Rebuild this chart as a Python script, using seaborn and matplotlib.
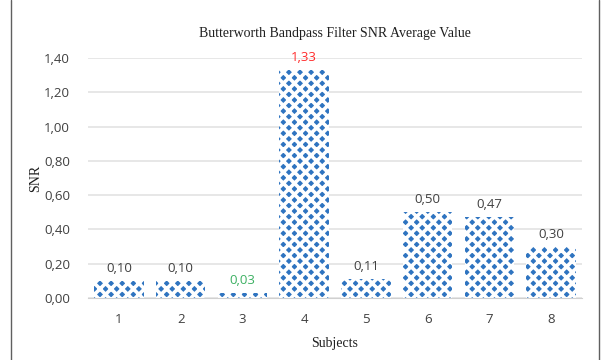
import matplotlib
matplotlib.use("Agg")
import matplotlib.pyplot as plt
import seaborn as sns
import pandas as pd
from matplotlib.lines import Line2D

subjects = ["1", "2", "3", "4", "5", "6", "7", "8"]
snr = [0.10, 0.10, 0.03, 1.33, 0.11, 0.50, 0.47, 0.30]
label_colors = ["#404040", "#404040", "#3cb062", "#ff2b2b", "#404040", "#404040", "#404040", "#404040"]
yticks = [0.0, 0.2, 0.4, 0.6, 0.8, 1.0, 1.2, 1.4]

sns.set_style("white")
plt.rcParams["hatch.linewidth"] = 2.6

df = pd.DataFrame({"Subjects": subjects, "SNR": snr})

fig = plt.figure(figsize=(6.02, 3.60), dpi=100)
ax = fig.add_axes([88/602, 1-298/360, (582-88)/602, (298-58)/360])

sns.barplot(data=df, x="Subjects", y="SNR", ax=ax, color="#2f74c0",
            width=0.8, saturation=1, zorder=3)
for p in ax.patches:
    p.set_hatch("xxx")
    p.set_edgecolor("white")
    p.set_linewidth(0)

ax.set_ylim(0, 1.4)
ax.set_xlim(-0.5, 7.5)
ax.set_yticks(yticks)
ax.set_yticklabels([f"{v:.2f}".replace(".", ",") for v in yticks],
                   fontfamily="Open Sans", fontsize=9.5, color="#404040")
ax.set_xticks(range(len(subjects)))
ax.set_xticklabels(subjects, fontfamily="Open Sans", fontsize=9.5, color="#404040")
ax.tick_params(axis="both", length=0, pad=11)
ax.tick_params(axis="y", pad=13)
ax.set_xticks([i - 0.5 for i in range(len(subjects) + 1)], minor=True)
ax.tick_params(axis="x", which="minor", length=4, color="#d0d0d0", direction="out")
ax.grid(axis="y", color="#e3e3e3", linewidth=1.2, zorder=0)
for s in ["top", "right", "left"]:
    ax.spines[s].set_visible(False)
ax.spines["bottom"].set_color("#d0d0d0")
ax.spines["bottom"].set_zorder(4)

for i, v in enumerate(snr):
    ax.text(i, v + 0.035, f"{v:.2f}".replace(".", ","), ha="center", va="bottom",
            fontfamily="Open Sans", fontsize=9.5, color=label_colors[i], clip_on=False)

ax.set_xlabel("Subjects", fontfamily="Liberation Serif", fontsize=10, color="#202020", labelpad=8)
ax.set_ylabel("SNR", fontfamily="Liberation Serif", fontsize=10, color="#202020", labelpad=1)
ax.set_title("Butterworth Bandpass Filter SNR Average Value", fontfamily="Liberation Serif",
             fontsize=10, color="#202020", pad=15)

fig.add_artist(Line2D([11/602, 11/602], [0, 1], color="#606060", linewidth=1, transform=fig.transFigure))
fig.add_artist(Line2D([599/602, 599/602], [0, 1], color="#606060", linewidth=1, transform=fig.transFigure))

fig.savefig("out.png", dpi=100)
